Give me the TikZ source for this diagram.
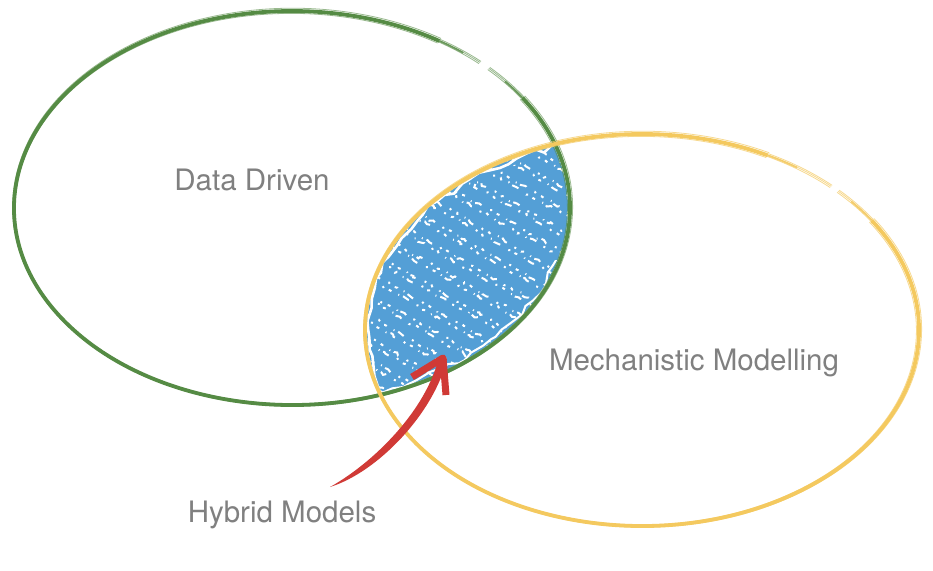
\documentclass[tikz,border=0pt]{standalone}
\usepackage{fontspec}
\setmainfont{TeX Gyre Heros}
\usetikzlibrary{calc,decorations.pathmorphing}
\definecolor{dgreen}{HTML}{558B44}
\definecolor{dyellow}{HTML}{F4C95F}
\definecolor{hblue}{HTML}{549FD6}
\definecolor{hred}{HTML}{D03A36}
\definecolor{tgray}{HTML}{808080}
\begin{document}
\begin{tikzpicture}[x=1pt,y=-1pt,
  lbl/.style={text=tgray, font=\fontsize{29.5}{34}\selectfont, anchor=base, inner sep=0pt},
  greenmain/.style={draw=dgreen, line width=3.8pt},
  greenmid/.style={draw=dgreen, line width=1.8pt, opacity=0.8},
  greenthin/.style={draw=dgreen, line width=0.8pt, opacity=0.6},
  yellowmain/.style={draw=dyellow, line width=3.8pt},
  yellowmid/.style={draw=dyellow, line width=1.8pt, opacity=0.85},
  yellowthin/.style={draw=dyellow, line width=0.8pt, opacity=0.7},
  speck/.style={draw=white, line width=2pt, decorate,
    decoration={random steps,segment length=3pt,amplitude=1.5pt},
    dash pattern=on 2pt off 6pt on 3pt off 8pt on 1pt off 4pt on 7pt off 10pt},
  edgegap/.style={draw=white, line width=2.6pt, decorate,
    decoration={random steps,segment length=10pt,amplitude=3pt}},
  barb/.style={draw=hred, line width=7pt, line join=round, line cap=butt}]
\useasboundingbox (0,0) rectangle (933,570);
\fill[white] (0,0) rectangle (933,570);
\coordinate (gc) at (292,208);
\coordinate (yc) at (642,330);
% hybrid region
\begin{scope}
  \clip (gc) ellipse [x radius=276, y radius=195];
  \clip (yc) ellipse [x radius=275, y radius=194];
  \fill[hblue] (300,100) rectangle (620,430);
  \pgfmathsetseed{11}
  \foreach \i in {-1,...,18} {
    \foreach \j/\ph in {-2.5/0,2.5/4.1} {
      \draw[speck, dash phase=\i*6.7pt+\ph pt]
        ($(383,392)+\i*(11,-15.5)+\j*(-0.5,0.87)+(-90,-51)$) -- ++(180,102);
    }
  }
  \draw[edgegap] (yc) ellipse [x radius=273.5, y radius=192.5];
  \begin{scope}
    \clip (300,260) rectangle (620,430);
    \draw[edgegap, line width=2pt] (gc) ellipse [x radius=274, y radius=193];
  \end{scope}
\end{scope}
% green ellipse (Data Driven)
\foreach \dr/\dx/\dy/\st in {0/0/0/greenmain, 2.0/0.6/-0.8/greenthin, -1.8/-0.8/0.6/greenthin} {
  \draw[\st] ($(gc)+(\dx,\dy)+({(278+\dr)*cos(-34)},{(197+\dr)*sin(-34)})$)
    arc[start angle=-34, end angle=302, x radius={278+\dr}, y radius={197+\dr}];
}
\draw[greenmid] ($(gc)+({278*cos(-58)},{197*sin(-58)})$) arc[start angle=-58, end angle=-52, x radius=278, y radius=197];
\draw[greenmid] ($(gc)+({278*cos(-40)},{197*sin(-40)})$) arc[start angle=-40, end angle=-34, x radius=278, y radius=197];
\foreach \dr in {-1.2,0.4,1.8} {
  \draw[greenthin] ($(gc)+({(278+\dr)*cos(-58)},{(197+\dr)*sin(-58)})$) arc[start angle=-58, end angle=-47.5, x radius={278+\dr}, y radius={197+\dr}];
  \draw[greenthin] ($(gc)+({(278+\dr)*cos(-45)},{(197+\dr)*sin(-45)})$) arc[start angle=-45, end angle=-34, x radius={278+\dr}, y radius={197+\dr}];
}
% yellow ellipse (Mechanistic Modelling)
\foreach \dr/\dx/\dy/\st in {0/0/0/yellowmain, 2.0/0.6/-0.8/yellowthin, -1.8/-0.8/0.6/yellowthin} {
  \draw[\st] ($(yc)+(\dx,\dy)+({(277+\dr)*cos(-34)},{(196+\dr)*sin(-34)})$)
    arc[start angle=-34, end angle=297, x radius={277+\dr}, y radius={196+\dr}];
}
\draw[yellowmid] ($(yc)+({277*cos(-63)},{196*sin(-63)})$) arc[start angle=-63, end angle=-56, x radius=277, y radius=196];
\draw[yellowmid] ($(yc)+({277*cos(-41)},{196*sin(-41)})$) arc[start angle=-41, end angle=-34, x radius=277, y radius=196];
\foreach \dr in {-1.2,0.4,1.8} {
  \draw[yellowthin] ($(yc)+({(277+\dr)*cos(-63)},{(196+\dr)*sin(-63)})$) arc[start angle=-63, end angle=-47, x radius={277+\dr}, y radius={196+\dr}];
  \draw[yellowthin] ($(yc)+({(277+\dr)*cos(-45)},{(196+\dr)*sin(-45)})$) arc[start angle=-45, end angle=-34, x radius={277+\dr}, y radius={196+\dr}];
}
% labels
\node[lbl] (dd) at (252,190) {Data Driven};
\node[lbl] (mm) at (694,370) {Mechanistic Modelling};
\node[lbl] (hm) at (282,522) {Hybrid Models};
% arrow
\coordinate (as) at (330,487);
\coordinate (at) at (443,358);
\coordinate (ab1) at (412,377);
\coordinate (ab2) at (446,395);
\fill[hred] (as) .. controls (373,463) and (426,411) .. (439,357)
  -- (447,359) .. controls (434,413) and (378,472) .. (as) -- cycle;
\draw[barb] (ab1) -- (at) -- (ab2);
\end{tikzpicture}
\end{document}
